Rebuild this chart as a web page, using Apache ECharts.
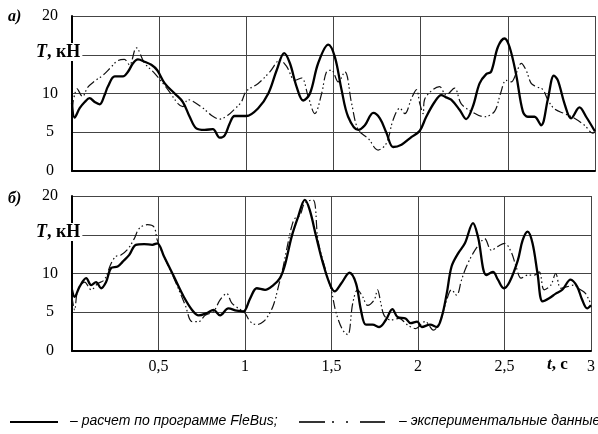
<!DOCTYPE html>
<html>
<head>
<meta charset="utf-8">
<script src="https://cdn.jsdelivr.net/npm/echarts@6/dist/echarts.min.js"></script>
<style>html,body{margin:0;padding:0;background:#fff}#c{width:598px;height:434px}</style>
</head>
<body>
<div id="c"></div>
<script>
// ---- data: [t, T] pairs ----
var xTicks = [0, 0.5, 1, 1.5, 2, 2.5, 3];
var yTicks = [0, 5, 10, 15, 20];

var calcA = [[0,8.8],[0.015,6.9],[0.044,8.1],[0.073,8.9],[0.101,9.4],[0.130,8.9],[0.159,8.6],[0.187,9.8],[0.206,10.9],[0.245,12.2],[0.292,12.2],[0.321,12.8],[0.350,13.9],[0.378,14.4],[0.417,14.1],[0.455,13.7],[0.489,13.0],[0.532,11.3],[0.589,10.0],[0.636,8.9],[0.675,7.0],[0.713,5.5],[0.761,5.3],[0.808,5.4],[0.847,4.3],[0.876,4.6],[0.904,6.1],[0.933,7.1],[1.0,7.1],[1.068,8.1],[1.126,10.0],[1.174,13.0],[1.217,15.2],[1.250,13.9],[1.288,10.9],[1.326,9.1],[1.365,10.0],[1.412,13.9],[1.470,16.3],[1.508,14.7],[1.546,10.5],[1.584,7.0],[1.642,5.3],[1.680,5.9],[1.728,7.5],[1.766,6.8],[1.804,4.9],[1.842,3.1],[1.890,3.4],[1.948,4.4],[1.995,5.2],[2.032,7.0],[2.080,8.9],[2.118,9.8],[2.146,9.5],[2.175,9.2],[2.223,7.9],[2.261,6.7],[2.299,8.3],[2.338,11.3],[2.376,12.5],[2.404,12.8],[2.443,16.0],[2.481,17.1],[2.510,16.0],[2.548,12.4],[2.586,7.7],[2.615,7.0],[2.653,7.0],[2.691,5.9],[2.729,9.2],[2.764,12.3],[2.787,11.7],[2.825,8.7],[2.863,6.8],[2.911,8.2],[2.949,7.0],[3.0,5.1]];

var expA = [[0,8.0],[0.03,10.6],[0.06,9.6],[0.09,10.8],[0.13,11.6],[0.18,12.4],[0.22,13.3],[0.26,14.2],[0.30,14.4],[0.33,13.7],[0.369,15.9],[0.417,13.9],[0.474,12.6],[0.55,10.5],[0.608,8.7],[0.636,8.3],[0.665,9.2],[0.741,8.3],[0.799,7.2],[0.847,6.7],[0.894,7.2],[0.933,8.0],[0.971,8.9],[1.0,10.3],[1.068,11.3],[1.135,12.8],[1.193,14.3],[1.231,13.5],[1.279,11.7],[1.317,12.0],[1.355,9.6],[1.393,7.4],[1.432,10.0],[1.460,12.8],[1.489,13.0],[1.527,11.5],[1.565,12.8],[1.604,8.7],[1.642,5.3],[1.699,4.2],[1.756,2.7],[1.804,3.6],[1.842,6.6],[1.881,8.1],[1.909,7.4],[1.948,9.4],[1.976,10.5],[1.995,8.7],[2.014,7.4],[2.022,9.2],[2.070,10.5],[2.108,10.9],[2.146,9.8],[2.194,10.7],[2.232,8.7],[2.290,7.7],[2.366,7.0],[2.424,7.7],[2.458,10.0],[2.490,11.7],[2.519,11.5],[2.548,12.6],[2.577,13.9],[2.605,13.0],[2.634,11.3],[2.662,10.9],[2.701,10.5],[2.729,9.2],[2.768,8.0],[2.825,7.4],[2.882,6.8],[2.940,5.9],[2.987,4.9],[3.0,5.0]];

var calcB = [[0,7.9],[0.015,7.0],[0.044,8.3],[0.082,9.4],[0.111,8.5],[0.139,8.9],[0.168,8.1],[0.197,8.9],[0.226,10.7],[0.264,10.9],[0.292,11.5],[0.331,12.4],[0.369,13.7],[0.417,13.8],[0.464,13.7],[0.493,13.9],[0.532,12.2],[0.589,9.6],[0.646,7.0],[0.694,5.3],[0.732,4.6],[0.780,4.9],[0.818,5.3],[0.856,4.6],[0.904,5.5],[0.952,5.2],[0.99,5.1],[1.030,6.8],[1.068,8.1],[1.116,7.9],[1.164,8.5],[1.202,9.4],[1.231,11.1],[1.269,14.7],[1.307,17.3],[1.346,19.5],[1.374,18.2],[1.412,14.7],[1.451,11.3],[1.489,8.7],[1.518,7.7],[1.556,8.7],[1.604,10.1],[1.642,8.7],[1.670,5.3],[1.699,3.4],[1.737,3.4],[1.776,3.1],[1.814,4.0],[1.852,5.4],[1.881,4.4],[1.928,4.2],[1.957,3.6],[1.995,3.8],[2.022,3.1],[2.070,3.4],[2.108,3.1],[2.137,4.4],[2.166,7.4],[2.194,10.9],[2.232,12.6],[2.271,13.9],[2.318,16.5],[2.347,14.7],[2.395,9.8],[2.433,10.2],[2.462,9.2],[2.496,8.1],[2.529,8.9],[2.577,11.7],[2.605,14.3],[2.634,15.4],[2.662,13.9],[2.691,10.0],[2.720,6.4],[2.758,6.8],[2.796,7.4],[2.834,7.9],[2.882,9.2],[2.920,8.3],[2.949,6.6],[2.978,5.5],[3.0,5.9]];

var expB = [[0,7.0],[0.015,5.3],[0.034,7.9],[0.073,8.9],[0.111,7.9],[0.149,8.7],[0.187,9.2],[0.226,11.3],[0.254,12.2],[0.283,12.4],[0.321,13.1],[0.360,14.5],[0.388,15.8],[0.436,16.3],[0.474,16.0],[0.493,14.3],[0.532,12.2],[0.589,9.4],[0.655,5.9],[0.694,3.8],[0.732,3.8],[0.770,4.6],[0.818,5.1],[0.856,6.6],[0.894,7.4],[0.923,6.2],[0.962,5.5],[1.0,4.9],[1.030,3.8],[1.068,3.4],[1.107,3.8],[1.135,4.6],[1.164,5.9],[1.193,8.3],[1.221,10.9],[1.240,13.0],[1.269,16.0],[1.288,17.1],[1.317,17.5],[1.346,19.1],[1.393,19.5],[1.422,14.3],[1.460,10.9],[1.498,7.9],[1.527,4.9],[1.565,2.7],[1.594,2.1],[1.623,6.2],[1.651,7.9],[1.680,7.0],[1.709,5.9],[1.747,6.6],[1.766,7.9],[1.785,6.2],[1.804,4.6],[1.842,4.0],[1.890,4.2],[1.938,3.4],[1.986,2.9],[2.041,3.8],[2.089,2.7],[2.127,3.8],[2.166,6.6],[2.194,7.9],[2.223,7.2],[2.252,9.2],[2.280,10.9],[2.318,12.6],[2.357,13.9],[2.385,14.5],[2.424,13.0],[2.462,13.5],[2.500,13.9],[2.538,12.8],[2.567,10.9],[2.596,9.4],[2.634,9.8],[2.672,9.8],[2.701,10.2],[2.729,7.9],[2.768,8.5],[2.796,10.0],[2.825,8.1],[2.863,8.3],[2.901,8.5],[2.940,7.9],[2.969,7.4],[3.0,6.0]];

var panelLabels = ['а)', 'б)'];
var legendCalc = '– расчет по программе FleBus;';
var legendExp = '– экспериментальные данные';

var serif = '"Liberation Serif", "DejaVu Serif", serif';
var sans = '"Liberation Sans", Arial, sans-serif';

function mkX(i, showLabels) {
  return {
    type: 'value', gridIndex: i, min: xTicks[0], max: xTicks[xTicks.length - 1], interval: 0.5,
    axisLine: { show: true, onZero: false, lineStyle: { color: '#000', width: 2 } },
    axisTick: { show: false },
    splitLine: { show: true, lineStyle: { color: '#444', width: 1 } },
    axisLabel: {
      show: showLabels, margin: 8, color: '#000', fontFamily: serif, fontSize: 16,
      formatter: function (v) { return v === 0 ? '' : String(v).replace('.', ','); }
    }
  };
}
function mkY(i) {
  return {
    type: 'value', gridIndex: i, min: yTicks[0], max: yTicks[yTicks.length - 1], interval: 5,
    axisLine: { show: true, lineStyle: { color: '#000', width: 2 } },
    axisTick: { show: false },
    splitLine: { show: true, lineStyle: { color: '#444', width: 1 } },
    axisLabel: {
      margin: 22, align: 'center', color: '#000', fontFamily: serif, fontSize: 16,
      formatter: function (v) { return v === 15 ? '' : String(v); }
    }
  };
}
var dashPattern = [9, 3, 1.5, 2.5, 1.5, 3];
function solid(i, d) {
  return { type: 'line', xAxisIndex: i, yAxisIndex: i, data: d, showSymbol: false, smooth: 0.35, z: 5,
    lineStyle: { color: '#000', width: 2.3 } };
}
function dashed(i, d) {
  return { type: 'line', xAxisIndex: i, yAxisIndex: i, data: d, showSymbol: false, smooth: 0.35, z: 4,
    lineStyle: { color: '#111', width: 1.2, type: dashPattern } };
}
function tLabel(y) {
  return { type: 'text', left: 36, top: y, z: 100,
    style: { text: '{a|T}{b|, кН}', backgroundColor: '#fff', padding: [0, 2, 0, 0],
      rich: { a: { fontFamily: serif, fontSize: 18, fontWeight: 'bold', fontStyle: 'italic', fill: '#000' },
              b: { fontFamily: serif, fontSize: 18, fontWeight: 'bold', fill: '#000' } } } };
}
function seg(x1, x2, y, w) {
  return { type: 'line', z: 100, shape: { x1: x1, y1: y, x2: x2, y2: y }, style: { stroke: '#000', lineWidth: w } };
}

var chart = echarts.init(document.getElementById('c'), null, { renderer: 'canvas' });
chart.setOption({
  animation: false,
  backgroundColor: '#fff',
  grid: [
    { left: 72, top: 16, width: 523, height: 155 },
    { left: 72, top: 196, width: 523, height: 155 }
  ],
  xAxis: [mkX(0, false), mkX(1, true)],
  yAxis: [mkY(0), mkY(1)],
  series: [dashed(0, expA), solid(0, calcA), dashed(1, expB), solid(1, calcB)],
  graphic: [
    tLabel(43), tLabel(223),
    { type: 'text', left: 8, top: 9, z: 100, style: { text: panelLabels[0], font: 'italic bold 16px ' + serif, fill: '#000' } },
    { type: 'text', left: 8, top: 191, z: 100, style: { text: panelLabels[1], font: 'italic bold 16px ' + serif, fill: '#000' } },
    { type: 'text', left: 547, top: 356, z: 100,
      style: { text: '{a|t}{b|, c}', rich: {
        a: { fontFamily: serif, fontSize: 17, fontWeight: 'bold', fontStyle: 'italic', fill: '#000' },
        b: { fontFamily: serif, fontSize: 17, fontWeight: 'bold', fill: '#000' } } } },
    seg(10, 58, 422, 2),
    { type: 'text', left: 70, top: 414, z: 100, style: { text: legendCalc, font: 'italic 14px ' + sans, fill: '#000' } },
    seg(299, 325, 422, 1.6), seg(332, 334, 422, 1.6), seg(346, 348, 422, 1.6), seg(360, 385, 422, 1.6),
    { type: 'text', left: 399, top: 414, z: 100, style: { text: legendExp, font: 'italic 14px ' + sans, fill: '#000' } }
  ]
});
</script>
</body>
</html>
